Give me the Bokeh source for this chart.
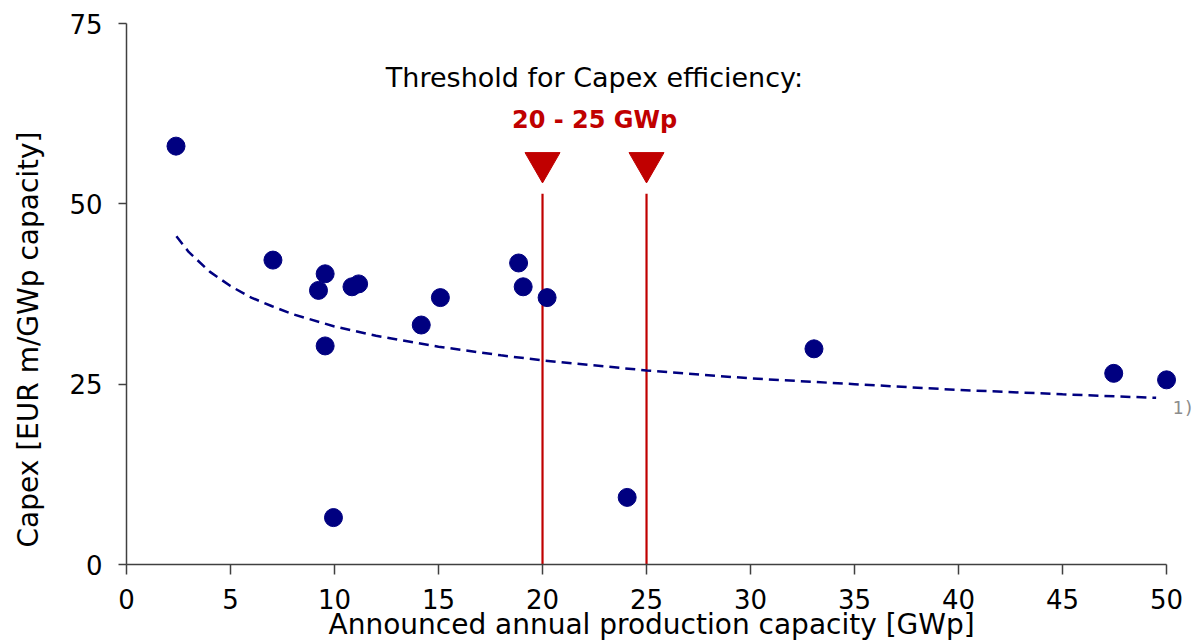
from bokeh.plotting import figure
from bokeh.models import Range1d, Label, FixedTicker, Title
from bokeh.embed import file_html
from bokeh.resources import INLINE

# ---- data ----
capacity_gwp = [2.38, 7.04, 9.23, 9.55, 9.55, 9.95, 10.84, 11.16, 14.17, 15.09,
                18.85, 19.07, 20.22, 24.07, 33.05, 47.46, 50.0]
capex_eur_m = [58.0, 42.2, 38.0, 40.3, 30.3, 6.5, 38.5, 38.9, 33.2, 37.0,
               41.8, 38.5, 37.0, 9.3, 29.9, 26.5, 25.6]
trend_x = [2.4, 3, 4, 5, 6, 7, 8, 10, 12, 15, 18, 20, 25, 30, 35, 40, 45, 49.5]
trend_y = [45.5, 43.3, 40.6, 38.6, 37.0, 35.8, 34.7, 33.0, 31.7, 30.2, 29.0,
           28.3, 26.9, 25.8, 25.0, 24.2, 23.6, 23.1]
thresholds = [20, 25]
x_ticks = [0, 5, 10, 15, 20, 25, 30, 35, 40, 45, 50]
y_ticks = [0, 25, 50, 75]

FONT = "DejaVu Sans"
NAVY = "#000080"
RED = "#C00000"

p = figure(width=1196, height=640, output_backend="svg", toolbar_location=None,
           x_range=Range1d(0, 51.44), y_range=Range1d(0, 75),
           min_border_left=126, min_border_right=0, min_border_top=23,
           min_border_bottom=76)
p.outline_line_color = None
p.grid.grid_line_color = None
p.background_fill_color = "white"
p.border_fill_color = "white"

# axes
p.xaxis.ticker = FixedTicker(ticks=x_ticks)
p.yaxis.ticker = FixedTicker(ticks=y_ticks)
p.xaxis.bounds = (0, 50)
for ax in (p.xaxis[0], p.yaxis[0]):
    ax.axis_line_color = "#404040"
    ax.axis_line_width = 1.5
    ax.major_tick_line_color = "#404040"
    ax.major_tick_line_width = 1.5
    ax.major_tick_in = 0
    ax.minor_tick_line_color = None
    ax.major_label_text_font = FONT
    ax.major_label_text_font_size = "26px"
    ax.major_label_text_color = "black"
p.xaxis.major_tick_out = 10
p.yaxis.major_tick_out = 8
p.xaxis.major_label_standoff = 14
p.yaxis.major_label_standoff = 16
# spacer label on the y axis to push the title outwards
p.yaxis.axis_label = " "
p.yaxis.axis_label_text_font_size = "1px"
p.yaxis.axis_label_standoff = 18

# axis titles as side titles
p.add_layout(Title(text="Announced annual production capacity [GWp]",
                   align="left", offset=202, vertical_align="top", standoff=-7,
                   text_font=FONT, text_font_size="28px",
                   text_font_style="normal", text_color="black"), "below")
p.add_layout(Title(text="Capex [EUR m/GWp capacity]",
                   align="left", offset=17, vertical_align="bottom", standoff=0,
                   text_font=FONT, text_font_size="28px",
                   text_font_style="normal", text_color="black"), "left")

# threshold lines and markers
p.segment(x0=thresholds, y0=[0, 0], x1=thresholds, y1=[51.4, 51.4],
          line_color=RED, line_width=2.2)
p.scatter(x=thresholds, y=[55.7, 55.7], marker="inverted_triangle", size=35,
          fill_color=RED, line_color=RED)

# trend line
p.line(trend_x, trend_y, line_color=NAVY, line_width=2.5, line_dash="10 6")

# data points
p.scatter(capacity_gwp, capex_eur_m, size=18, fill_color=NAVY, line_color=NAVY)

# annotations
mid = (thresholds[0] + thresholds[1]) / 2
p.add_layout(Label(x=mid, y=67.5, text="Threshold for Capex efficiency:",
                   text_align="center", text_baseline="alphabetic",
                   text_font=FONT, text_font_size="27px", text_color="black"))
p.add_layout(Label(x=mid, y=61.6, text="20 - 25 GWp",
                   text_align="center", text_baseline="alphabetic",
                   text_font=FONT, text_font_size="24px",
                   text_font_style="bold", text_color=RED))
p.add_layout(Label(x=50.29, y=21.8, text="1)",
                   text_align="left", text_baseline="alphabetic",
                   text_font="DejaVu Sans Mono", text_font_size="18px",
                   text_color="#8C8C8C"))

open("out.html", "w").write(file_html(p, INLINE))
